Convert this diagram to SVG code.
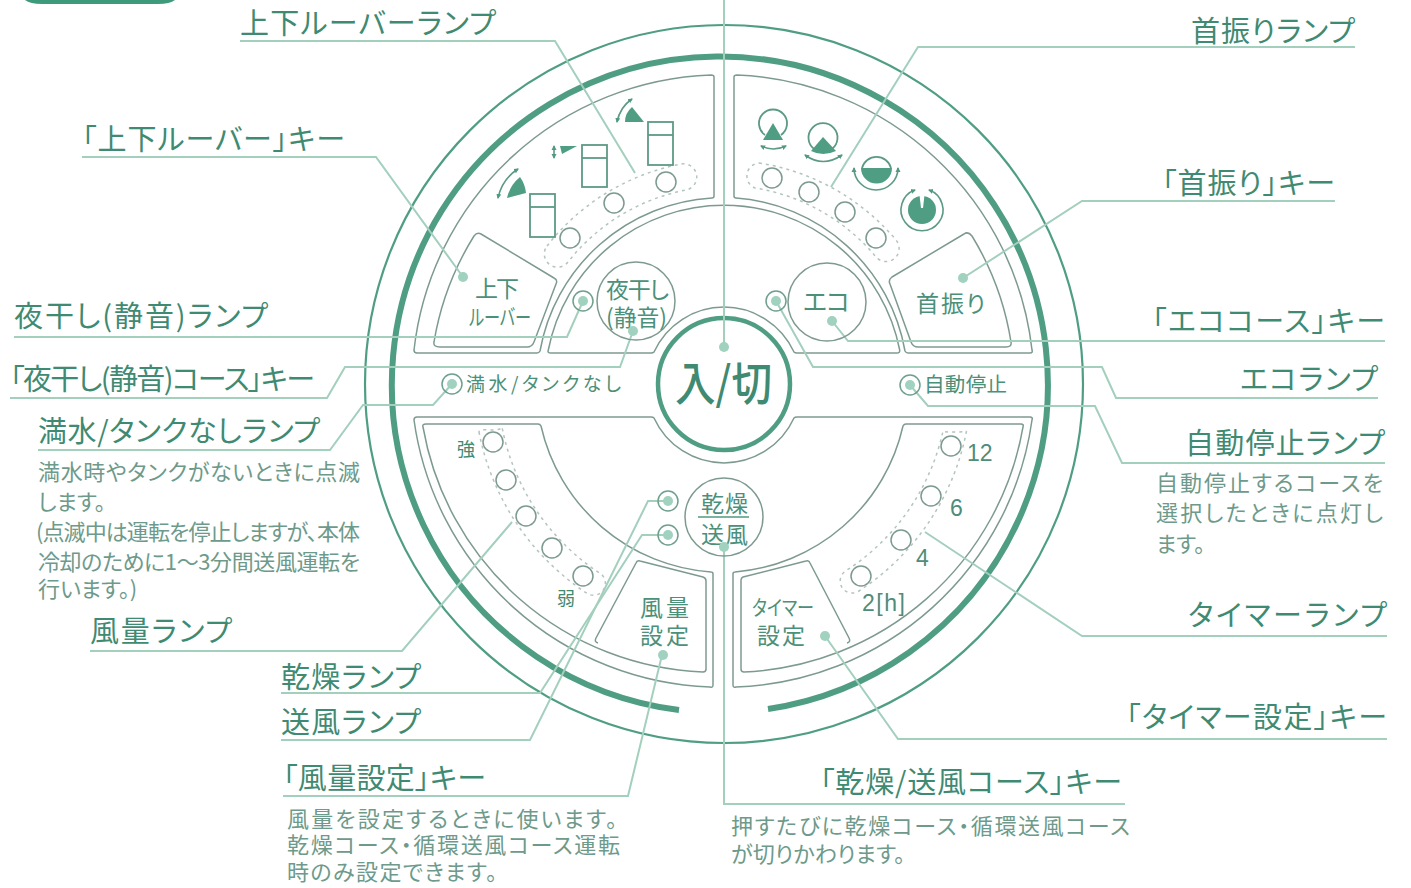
<svg xmlns="http://www.w3.org/2000/svg" width="1411" height="888" viewBox="0 0 1411 888">
<defs>
<marker id="ah" markerWidth="6" markerHeight="6" refX="4" refY="3" orient="auto-start-reverse" markerUnits="userSpaceOnUse"><path d="M0,0.5 L5,3 L0,5.5 Z" fill="#4f9a80"/></marker>
</defs>
<style>
text{font-family:"Noto Sans CJK JP","Noto Sans",sans-serif;fill:#3f8a72;font-weight:400;font-feature-settings:"palt"}
.lab{font-size:29px}
.sub{font-size:22px;fill:#6d9a8b}
.key{font-size:23px;fill:#4b9079}
.num{font-family:"Liberation Sans",sans-serif;font-size:23px;fill:#4f8c7a}
.conn{fill:none;stroke:#a3cfbd;stroke-width:2}
.dot{fill:#a0d2bf;stroke:none}
.pan{fill:none;stroke:#7d9a90;stroke-width:1.5;stroke-linejoin:round}
.lamp{fill:#fff;stroke:#7d9a90;stroke-width:1.5}
.ring{fill:none;stroke:#7d9a90;stroke-width:1.5}
.lampg{fill:none;stroke:#6fa08f;stroke-width:1.5}
.dash{fill:none;stroke:#b4c4be;stroke-width:1.5;stroke-dasharray:3 4}
.ic{fill:#4f9e84;stroke:none}
.icl{fill:none;stroke:#5c9a85;stroke-width:1.8}
.arr{fill:none;stroke:#5c9a85;stroke-width:1.6;marker-start:url(#ah);marker-end:url(#ah)}
</style>
<rect width="1411" height="888" fill="#fff"/>
<path id="tab" d="M25,0 H175 Q170,4 158,4 H42 Q30,4 25,0 Z" fill="#3f9a7b"/>

<g id="dial">
<circle cx="724" cy="384" r="359" fill="none" stroke="#4f9e84" stroke-width="2.2"/>
<path d="M679,710 A328,328 0 1 1 768,709" fill="none" stroke="#4f9e84" stroke-width="6"/>
<circle cx="724" cy="384" r="66" fill="none" stroke="#4f9e84" stroke-width="4.5"/>
</g>

<g id="panels">
<path class="pan" d="M714,77 V196 Q714,198 712,198 A186,186 0 0 0 540,351 Q539,353 537,353 H417 Q414,353 414,350 A310,310 0 0 1 711,75 Q714,75 714,77 Z"/>
<path class="pan" d="M734,77 V196 Q734,198 736,198 A186,186 0 0 1 905,351 Q906,353 908,353 H1030 Q1033,353 1032,350 A310,310 0 0 0 737,75 Q734,75 734,77 Z"/>
<path class="pan" d="M548.3,350 A179,179 0 0 1 899.7,350 Q900,353 897,353 H797 Q795,353 794,352 A77,77 0 0 0 654,352 Q653,353 651,353 H551 Q547,353 548.3,350 Z"/>
<path class="pan" d="M440,347 H527 Q532,347 534,342 L556,284 Q558,280 554,278 L481,234 Q477,232 474,236 A291,291 0 0 0 434,342 Q433,347 440,347 Z"/>
<path class="pan" d="M918,347 H1006 Q1012,347 1011,342 A291,291 0 0 0 972,236 Q968,231 964,234 L892,277 Q888,280 890,284 L911,342 Q913,347 918,347 Z"/>
<path class="pan" d="M426,424 H538 Q540,424 541,426 A188,188 0 0 0 711,572 Q713,572 713,574 V685 Q713,688 710,687 A310,310 0 0 1 414,420 Q414,417 417,417 H651 Q653,417 654,418 A77,77 0 0 0 794,418 Q795,417 797,417 H1030 Q1033,417 1032,420 A310,310 0 0 1 736,687 Q733,688 733,685 V574 Q733,572 735,572 A188,188 0 0 0 903,426 Q904,424 906,424 H1021 Q1024,424 1023,427 A296,296 0 0 1 744,672 Q741,672 741,669 V580 Q741,578 743,577 L806,561 Q809,560 810,563 L849,638 Q851,642 847,643"/>
<path class="pan" d="M426,424 Q422,424 423,427 A296,296 0 0 0 703,672 Q706,672 706,669 V581 Q706,578 703,577 L640,561 Q637,560 636,563 L596,638 Q594,642 598,643"/>
</g>

<g id="connectors">
<path class="conn" d="M240,41 H555 L635,173"/>
<path class="conn" d="M82,157 H376 L463,277"/>
<path class="conn" d="M14,337 H567 L583,301"/>
<path class="conn" d="M10,398 H327 L345,367 H620 L633,331"/>
<path class="conn" d="M38,450 H330 L363,405 H433 L452,384"/>
<path class="conn" d="M90,651 H402 L512,522"/>
<path class="conn" d="M281,693 H540 L642,535 H668"/>
<path class="conn" d="M281,740 H530 L648,501 H668"/>
<path class="conn" d="M283,796 H628 L662,655"/>
<path class="conn" d="M724,0 V346"/>
<path class="conn" d="M1355,47 H918 L831,187"/>
<path class="conn" d="M1335,201 H1082 L963,278"/>
<path class="conn" d="M1385,341 H848 L832,321"/>
<path class="conn" d="M1378,398 H1116 L1102,367 H813 L776,301"/>
<path class="conn" d="M1385,463 H1122 L1095,406 H928 L910,385"/>
<path class="conn" d="M1387,636 H1082 L925,532"/>
<path class="conn" d="M1387,739 H898 L825,636"/>
<path class="conn" d="M1125,804 H724 V547"/>
</g>

<g id="louver-lamps">
<path class="dash" d="M547,246 A224,224 0 0 1 681,164 A13,13 0 0 1 686,190 A198,198 0 0 0 568,262 A13,13 0 0 1 547,246 Z"/>
<circle class="lamp" cx="570" cy="238" r="10"/><circle class="lamp" cx="614" cy="203" r="10"/><circle class="lamp" cx="666" cy="182" r="10"/>
<g class="icl">
<rect x="530" y="194" width="25" height="43"/><path d="M530,207 H555"/>
<rect x="582" y="145" width="25" height="42"/><path d="M582,158 H607"/>
<rect x="648" y="122" width="25" height="43"/><path d="M648,135 H673"/>
</g>
<path class="ic" d="M526,193 L507,198 Q510,185 520,177 Q525,184 526,193 Z"/>
<path class="arr" d="M498,198 Q502,179 518,169"/>
<path class="ic" d="M560,146 H577 L562,154 Z"/>
<path class="arr" d="M554,146 V158"/>
<path class="ic" d="M632,107 L644,122 H625 Q625,113 632,107 Z"/>
<path class="arr" d="M617,122 Q620,107 632,99"/>
</g>

<g id="swing-lamps">
<path class="dash" d="M759,163 A224,224 0 0 1 896,240 A13,13 0 0 1 876,257 A198,198 0 0 0 755,188 A13,13 0 0 1 759,163 Z"/>
<circle class="lamp" cx="772" cy="178" r="10"/><circle class="lamp" cx="809" cy="192" r="10"/><circle class="lamp" cx="845" cy="212" r="10"/><circle class="lamp" cx="876" cy="238" r="10"/>
<path class="icl" d="M765,135 A14,14 0 1 1 781,135"/>
<path class="ic" d="M773,123 L783,140 H763 Z"/>
<path class="arr" d="M761,146 Q773,152 786,146"/>
<path class="icl" d="M814,149 A14.5,14.5 0 1 1 832,149"/>
<path class="ic" d="M823,137 L836,151 Q823,157 811,151 Z"/>
<path class="arr" d="M805,155 Q823,168 842,155"/>
<path class="icl" d="M862,168 A15,15 0 0 1 891,168"/>
<path class="ic" d="M861,168 H892 A15.5,15.5 0 0 1 861,168 Z"/>
<path class="arr" d="M854,168 A22,22 0 0 0 898,168"/>
<circle class="ic" cx="922" cy="210" r="14"/>
<path d="M919.5,195 H924.5 L923,208 H921 Z" fill="#fff"/>
<path class="arr" d="M915,190 A21,21 0 1 0 929,190"/>
</g>

<g id="fan-lamps">
<path class="dash" d="M479,432 A250,250 0 0 0 588,594 A12,12 0 0 0 601,574 A226,226 0 0 1 502,427 Q502,430 490,430 Q479,429 479,432 Z"/>
<circle class="lamp" cx="493" cy="442" r="10"/><circle class="lamp" cx="506" cy="480" r="10"/><circle class="lamp" cx="526" cy="516" r="10"/><circle class="lamp" cx="552" cy="548" r="10"/><circle class="lamp" cx="583" cy="576" r="10"/>
<text x="457" y="456" font-size="18" textLength="18">強</text>
<text x="557" y="605" font-size="18" textLength="18">弱</text>
</g>

<g id="timer-lamps">
<path class="dash" d="M966.5,431 A247,247 0 0 1 859,591 A12,12 0 0 1 845.5,571 A223,223 0 0 0 943,431 Q943,432 955,432 Q966,432 966.5,431 Z"/>
<circle class="lamp" cx="951" cy="446" r="10"/><circle class="lamp" cx="931" cy="496" r="10"/><circle class="lamp" cx="901" cy="540" r="10"/><circle class="lamp" cx="861" cy="576" r="10"/>
<text class="num" x="967" y="461">12</text>
<text class="num" x="950" y="516">6</text>
<text class="num" x="916" y="566">4</text>
<text class="num" x="862" y="611" textLength="43">2[h]</text>
</g>

<g id="key-louver"><text class="key" x="475" y="297" textLength="44">上下</text><text class="key" x="469" y="325" style="font-size:22px" textLength="62" lengthAdjust="spacingAndGlyphs">ルーバー</text></g>
<g id="key-night"><circle class="ring" cx="636" cy="301" r="39"/><text class="key" x="606" y="298" textLength="63">夜干し</text><text class="key" x="606" y="326" textLength="61" lengthAdjust="spacingAndGlyphs">(静音)</text></g>
<g id="lamp-night"><circle class="lampg" cx="583" cy="301" r="10"/><circle class="dot" cx="583" cy="301" r="5"/></g>
<g id="key-eco"><circle class="ring" cx="827" cy="302" r="39"/><text class="key" x="803" y="311" textLength="47" style="font-size:25px">エコ</text></g>
<g id="lamp-eco"><circle class="lampg" cx="776" cy="301" r="10"/><circle class="dot" cx="776" cy="301" r="5"/></g>
<g id="key-swing"><text class="key" x="916" y="312" textLength="69">首振り</text></g>
<g id="key-power"><text x="675" y="400" style="font-size:46px;font-weight:500" textLength="97" lengthAdjust="spacingAndGlyphs">入/切</text></g>
<g id="lamp-full"><circle class="lampg" cx="452" cy="384" r="10"/><circle class="dot" cx="452" cy="384" r="5"/><text x="466" y="391" style="font-size:19px;fill:#4b9079" textLength="155">満水/タンクなし</text></g>
<g id="lamp-auto"><circle class="lampg" cx="910" cy="385" r="10"/><circle class="dot" cx="910" cy="385" r="5"/><text x="924" y="392" style="font-size:20.5px;fill:#4b9079" textLength="83">自動停止</text></g>
<g id="key-dry"><circle class="ring" cx="724" cy="517" r="39"/><text class="key" x="701" y="512" textLength="47">乾燥</text><path d="M698,517 H749" stroke="#4f9a80" stroke-width="1.6" fill="none"/><text class="key" x="701" y="543" textLength="47">送風</text></g>
<g id="lamp-dry"><circle class="lampg" cx="668" cy="501" r="10"/><circle class="dot" cx="668" cy="501" r="5"/></g>
<g id="lamp-fan"><circle class="lampg" cx="668" cy="535" r="10"/><circle class="dot" cx="668" cy="535" r="5"/></g>
<g id="key-fan"><text class="key" x="640" y="616" textLength="49">風量</text><text class="key" x="640" y="644" textLength="49">設定</text></g>
<g id="key-timer"><text class="key" x="752" y="615" style="font-size:21px" textLength="62" lengthAdjust="spacingAndGlyphs">タイマー</text><text class="key" x="757" y="644" textLength="48">設定</text></g>

<g id="dots">
<circle class="dot" cx="463" cy="277" r="5"/><circle class="dot" cx="633" cy="331" r="5"/>
<circle class="dot" cx="663" cy="655" r="5"/><circle class="dot" cx="724" cy="347" r="5"/>
<circle class="dot" cx="963" cy="278" r="5"/><circle class="dot" cx="832" cy="321" r="5"/>
<circle class="dot" cx="825" cy="636" r="5"/><circle class="dot" cx="724" cy="547" r="5"/>
</g>

<g id="labels">
<text class="lab" x="240" y="34" textLength="256">上下ルーバーランプ</text>
<text class="lab" x="82" y="150" textLength="263">「上下ルーバー」キー</text>
<text class="lab" x="14" y="327" textLength="254">夜干し(静音)ランプ</text>
<text class="lab" x="10" y="390" textLength="305">「夜干し(静音)コース」キー</text>
<text class="lab" x="38" y="442" textLength="282">満水/タンクなしランプ</text>
<text class="sub" x="38" y="480" textLength="322">満水時やタンクがないときに点滅</text>
<text class="sub" x="38" y="510">します。</text>
<text class="sub" x="36" y="540" textLength="324">(点滅中は運転を停止しますが、本体</text>
<text class="sub" x="38" y="570" textLength="322">冷却のために1～3分間送風運転を</text>
<text class="sub" x="38" y="597">行います。)</text>
<text class="lab" x="90" y="642" textLength="142">風量ランプ</text>
<text class="lab" x="281" y="688" textLength="140">乾燥ランプ</text>
<text class="lab" x="281" y="733" textLength="140">送風ランプ</text>
<text class="lab" x="283" y="789" textLength="203">「風量設定」キー</text>
<text class="sub" x="287" y="827" textLength="330">風量を設定するときに使います。</text>
<text class="sub" x="287" y="853" textLength="333">乾燥コース・循環送風コース運転</text>
<text class="sub" x="287" y="880" textLength="210">時のみ設定できます。</text>
<text class="lab" x="1191" y="42" textLength="164">首振りランプ</text>
<text class="lab" x="1162" y="194" textLength="173">「首振り」キー</text>
<text class="lab" x="1152" y="332" textLength="233">「エココース」キー</text>
<text class="lab" x="1240" y="390" textLength="138">エコランプ</text>
<text class="lab" x="1185" y="454" textLength="200">自動停止ランプ</text>
<text class="sub" x="1156" y="491" textLength="227">自動停止するコースを</text>
<text class="sub" x="1156" y="521" textLength="227">選択したときに点灯し</text>
<text class="sub" x="1156" y="552">ます。</text>
<text class="lab" x="1188" y="626" textLength="199">タイマーランプ</text>
<text class="lab" x="1126" y="728" textLength="261">「タイマー設定」キー</text>
<text class="lab" x="820" y="793" textLength="302">「乾燥/送風コース」キー</text>
<text class="sub" x="731" y="834" textLength="399">押すたびに乾燥コース・循環送風コース</text>
<text class="sub" x="731" y="862" textLength="174">が切りかわります。</text>
</g>
</svg>
